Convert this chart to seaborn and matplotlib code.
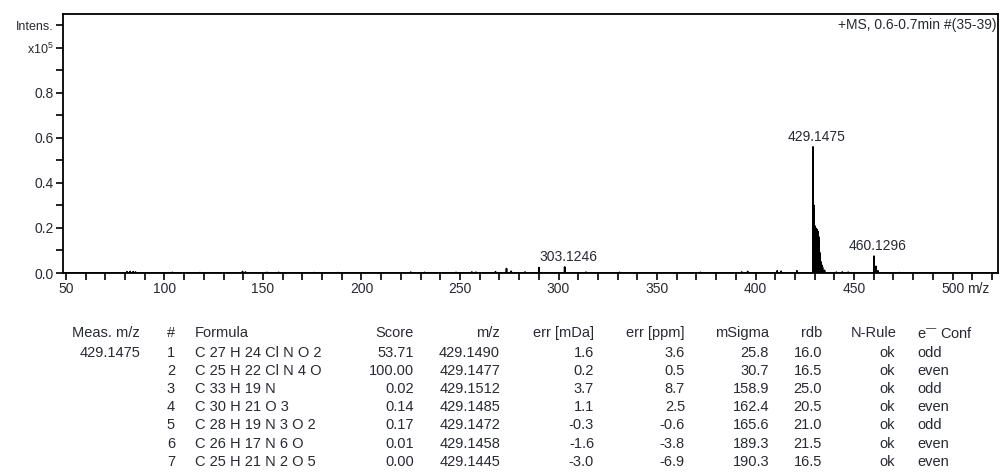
import numpy as np
import pandas as pd
import matplotlib
matplotlib.use("Agg")
import matplotlib.pyplot as plt
import seaborn as sns
from matplotlib.ticker import MultipleLocator, FixedLocator

# ---- spectrum peaks (m/z, intensity x10^5) ----
peak_mz = [81.0, 82.6, 84.1, 85.3, 104.0, 118.0, 139.6, 141.1, 152.0, 158.0,
           176.0, 188.0, 225.0, 232.0, 248.0, 256.0, 258.1, 268.0, 273.6, 276.0,
           283.0, 290.1, 303.1246, 314.0, 331.0, 372.0, 393.0, 396.0, 411.0, 413.0,
           421.0, 429.1475, 429.6, 430.0, 430.15, 430.5, 431.0, 431.2, 431.6, 432.1,
           432.6, 433.1, 433.6, 434.0, 435.0, 441.0, 444.0, 447.0, 460.1296, 461.1,
           462.1, 473.0]
peak_int = [0.006, 0.007, 0.006, 0.005, 0.003, 0.002, 0.007, 0.005, 0.003, 0.003,
            0.002, 0.002, 0.004, 0.003, 0.003, 0.005, 0.004, 0.006, 0.020, 0.008,
            0.005, 0.024, 0.027, 0.004, 0.003, 0.003, 0.005, 0.007, 0.010, 0.008,
            0.010, 0.560, 0.300, 0.210, 0.205, 0.200, 0.195, 0.190, 0.185, 0.160,
            0.090, 0.050, 0.035, 0.025, 0.012, 0.004, 0.005, 0.004, 0.075, 0.030,
            0.010, 0.002]

labelled_mz = [303.1246, 429.1475, 460.1296]
labelled_int = [0.027, 0.560, 0.075]

# ---- formula table ----
meas_mz = "429.1475"
rank = ["1", "2", "3", "4", "5", "6", "7"]
formula = ["C 27 H 24 Cl N O 2", "C 25 H 22 Cl N 4 O", "C 33 H 19 N", "C 30 H 21 O 3",
           "C 28 H 19 N 3 O 2", "C 26 H 17 N 6 O", "C 25 H 21 N 2 O 5"]
score = ["53.71", "100.00", "0.02", "0.14", "0.17", "0.01", "0.00"]
calc_mz = ["429.1490", "429.1477", "429.1512", "429.1485", "429.1472", "429.1458", "429.1445"]
err_mda = ["1.6", "0.2", "3.7", "1.1", "-0.3", "-1.6", "-3.0"]
err_ppm = ["3.6", "0.5", "8.7", "2.5", "-0.6", "-3.8", "-6.9"]
msigma = ["25.8", "30.7", "158.9", "162.4", "165.6", "189.3", "190.3"]
rdb = ["16.0", "16.5", "25.0", "20.5", "21.0", "21.5", "16.5"]
n_rule = ["ok"] * 7
e_conf = ["odd", "even", "odd", "even", "odd", "even", "even"]

sns.set_style("white")
plt.rcParams["font.family"] = ["Liberation Sans", "DejaVu Sans"]
plt.rcParams["mathtext.fontset"] = "custom"
plt.rcParams["mathtext.rm"] = "Liberation Sans"
TXT = "#262a33"

# stick profile built from the peak list
xs, ys = [48.5], [0.0]
for m, h in sorted(zip(peak_mz, peak_int)):
    xs += [m - 0.08, m, m + 0.08]
    ys += [0.0, h, 0.0]
xs.append(523.0)
ys.append(0.0)
spec = pd.DataFrame({"mz": xs, "intensity": ys})

fig = plt.figure(figsize=(10.01, 4.73), dpi=100)
ax = fig.add_axes([0.0629, 0.4228, 0.934, 0.5476])
sns.lineplot(data=spec, x="mz", y="intensity", sort=False, estimator=None,
             color="black", linewidth=1.2, ax=ax)

ax.set_xlim(48.5, 523.0)
ax.set_ylim(0.0, 1.15)
ax.set_xlabel("")
ax.set_ylabel("")
for s in ax.spines.values():
    s.set_color("black")
    s.set_linewidth(1.3)

ax.set_xticks(list(range(50, 501, 50)))
ax.set_xticklabels([str(v) for v in range(50, 501, 50)])
ax.xaxis.set_minor_locator(MultipleLocator(10))
ax.yaxis.set_major_locator(FixedLocator([0.0, 0.2, 0.4, 0.6, 0.8, 1.0, 1.1]))
ax.yaxis.set_minor_locator(FixedLocator([0.1, 0.3, 0.5, 0.7, 0.9]))
ax.set_yticklabels(["0.0", "0.2", "0.4", "0.6", "0.8", "x10$^5$", "Intens."])
ax.tick_params(axis="both", which="both", direction="out", color="black",
               width=1.2, length=5, labelsize=10, labelcolor=TXT, pad=1.5)
ax.tick_params(axis="x", which="both", bottom=True, top=False)
ax.tick_params(axis="y", which="both", left=True, right=False)
for lab in ax.get_yticklabels()[-2:]:
    lab.set_fontsize(9)

# unit label next to the last x tick label
ax.text(507.5, -0.036, "m/z", transform=ax.get_xaxis_transform(), ha="left",
        va="top", fontsize=10, color=TXT)
ax.text(0.998, 0.985, "+MS, 0.6-0.7min #(35-39)", transform=ax.transAxes,
        ha="right", va="top", fontsize=10, color=TXT)

for m, h in zip(labelled_mz, labelled_int):
    ax.text(m + 2, h + 0.012, f"{m:.4f}", ha="center", va="bottom",
            fontsize=10, color=TXT)

# ---- table below the spectrum ----
def fx(px):
    return px / 1001.0

def fy(py):
    return 1.0 - py / 473.0

tfs = 10.5
header_y = 333
row_y = [353 + 18.1 * i for i in range(7)]

cols = [
    ("Meas. m/z", 140, "right", [meas_mz] + [""] * 6),
    ("#", 175, "right", rank),
    ("Formula", 195, "left", formula),
    ("Score", 414, "right", score),
    ("m/z", 500, "right", calc_mz),
    ("err [mDa]", 594, "right", err_mda),
    ("err [ppm]", 685, "right", err_ppm),
    ("mSigma", 769, "right", msigma),
    ("rdb", 822, "right", rdb),
    ("N-Rule", 897, "right", n_rule),
]
for head, xpx, ha, vals in cols:
    fig.text(fx(xpx), fy(header_y), head, ha=ha, va="center", fontsize=tfs, color=TXT)
    for v, yp in zip(vals, row_y):
        if v:
            xo = xpx - 2 if head == "N-Rule" else xpx
            fig.text(fx(xo), fy(yp), v, ha=ha, va="center", fontsize=tfs, color=TXT)

fig.text(fx(917), fy(header_y), "e$^{\u2014}$ Conf", ha="left", va="center",
         fontsize=tfs, color=TXT)
for v, yp in zip(e_conf, row_y):
    fig.text(fx(917), fy(yp), v, ha="left", va="center", fontsize=tfs, color=TXT)

fig.savefig("out.png", dpi=100)
